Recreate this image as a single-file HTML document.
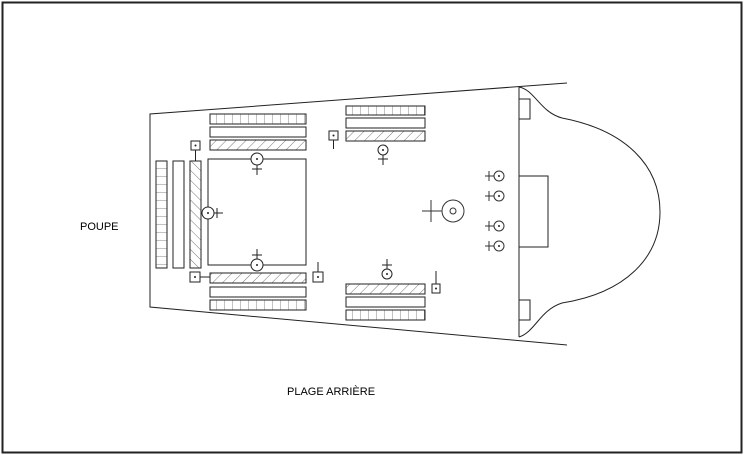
<!DOCTYPE html><html><head><style>body{margin:0;background:#fff}svg{display:block}text{font-family:"Liberation Sans",sans-serif;font-size:11px}</style></head><body>
<svg width="745" height="455" viewBox="0 0 745 455" xmlns="http://www.w3.org/2000/svg">
<defs>
<pattern id="h" width="7" height="7" patternUnits="userSpaceOnUse" patternTransform="rotate(45)"><line x1="0" y1="0" x2="0" y2="7" stroke="#555" stroke-width="0.8"/></pattern>
<pattern id="hv" width="7" height="7" patternUnits="userSpaceOnUse" patternTransform="rotate(-45)"><line x1="0" y1="0" x2="0" y2="7" stroke="#555" stroke-width="0.8"/></pattern>
<pattern id="sh" width="8" height="10" patternUnits="userSpaceOnUse"><line x1="0" y1="0" x2="0" y2="10" stroke="#666" stroke-width="0.8"/></pattern>
<pattern id="sv" width="12" height="8" patternUnits="userSpaceOnUse"><line x1="0" y1="0" x2="12" y2="0" stroke="#666" stroke-width="0.8"/></pattern>
</defs>
<rect x="2.5" y="2.5" width="739" height="450" fill="none" stroke="#222" stroke-width="2"/>
<g fill="none" stroke="#222" stroke-width="1">
<path d="M567,83 L150,114 L150,307 L567,345"/>
<line x1="519" y1="87" x2="519" y2="337"/>
<path d="M519,87 C535,90 540,112 562,118 C625,130 660,165 660,212 C660,258 625,293 562,303 C540,310 535,332 519,337"/>
<rect x="519" y="99" width="11" height="20"/><rect x="519" y="300" width="11" height="20"/>
<rect x="519" y="176" width="29" height="71"/>
<g stroke="#333">
<circle cx="499" cy="176" r="5"/><circle cx="499" cy="196" r="5"/><circle cx="499" cy="226" r="5"/><circle cx="499" cy="246" r="5"/>
<path d="M485,176h9M489,171v10M485,196h9M489,191v10M485,226h9M489,221v10M485,246h9M489,241v10"/>
<circle cx="453" cy="211" r="11"/><circle cx="453" cy="211" r="3"/>
<path d="M422,211h20M431,200v22"/>
</g>
<rect x="346" y="106" width="79" height="9" fill="url(#sh)"/>
<rect x="346" y="118" width="79" height="10"/>
<rect x="346" y="131" width="79" height="10" fill="url(#h)"/>
<rect x="346" y="284" width="79" height="10" fill="url(#h)"/>
<rect x="346" y="297" width="79" height="10"/>
<rect x="346" y="310" width="79" height="10" fill="url(#sh)"/>
<circle cx="383" cy="150" r="5"/><path d="M383,155v10M378,159h10"/>
<circle cx="387" cy="274" r="5"/><path d="M387,269v-10M382,265h10"/>
<rect x="329" y="131" width="9" height="9"/><path d="M333.5,140v9"/>
<rect x="432" y="284" width="8" height="9"/><path d="M436,284v-13"/>
<rect x="210" y="114" width="96" height="10" fill="url(#sh)"/>
<rect x="210" y="127" width="96" height="10"/>
<rect x="210" y="140" width="96" height="10" fill="url(#h)"/>
<rect x="208" y="159" width="98" height="106"/>
<rect x="210" y="273" width="96" height="10" fill="url(#h)"/>
<rect x="210" y="287" width="96" height="10"/>
<rect x="210" y="300" width="96" height="10" fill="url(#sh)"/>
<rect x="156" y="161" width="11" height="107" fill="url(#sv)"/>
<rect x="173" y="161" width="11" height="107"/>
<rect x="190" y="161" width="11" height="107" fill="url(#hv)"/>
<rect x="191" y="141" width="9" height="9"/><path d="M195.5,150v11"/>
<rect x="190" y="272" width="10" height="10"/><path d="M200,277h10"/>
<rect x="313" y="272" width="10" height="10"/><path d="M318,272v-10"/>
<circle cx="257" cy="159" r="6" fill="#fff"/><path d="M257,165v10M252,169h10"/>
<circle cx="208" cy="213" r="6" fill="#fff"/><path d="M214,213h9M217,208v10"/>
<circle cx="257" cy="265" r="6" fill="#fff"/><path d="M257,259v-10M252,255h10"/>
</g>
<g fill="#222">
<circle cx="499" cy="176" r="1"/><circle cx="499" cy="196" r="1"/><circle cx="499" cy="226" r="1"/><circle cx="499" cy="246" r="1"/>
<circle cx="383" cy="150" r="1"/><circle cx="387" cy="274" r="1"/><circle cx="333.5" cy="135.5" r="1"/><circle cx="436" cy="288.5" r="1"/>
<circle cx="195.5" cy="145.5" r="1"/><circle cx="195" cy="277" r="1"/><circle cx="318" cy="277" r="1"/>
<circle cx="257" cy="159" r="1"/><circle cx="208" cy="213" r="1"/><circle cx="257" cy="265" r="1"/>
</g>
<text x="80" y="230">POUPE</text>
<text x="287" y="395">PLAGE ARRIÈRE</text>
</svg></body></html>
